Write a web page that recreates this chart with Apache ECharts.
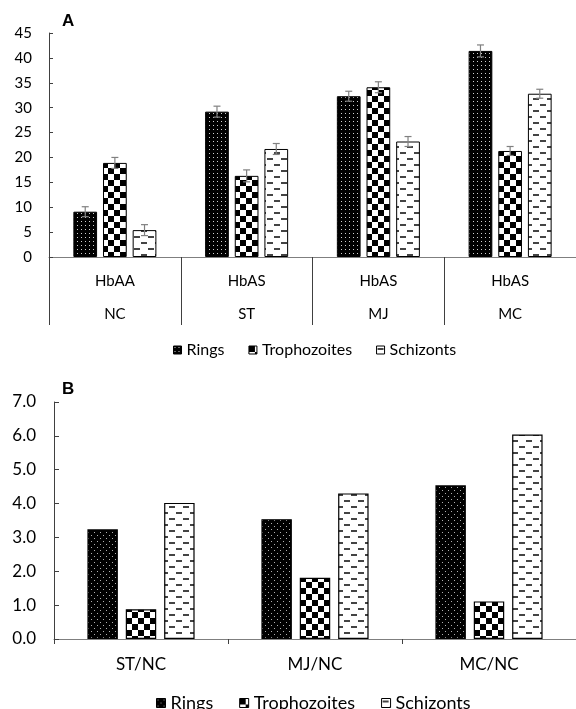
<!DOCTYPE html>
<html>
<head>
<meta charset="utf-8">
<script src="https://cdn.jsdelivr.net/npm/echarts@6/dist/echarts.min.js"></script>
<style>
  html, body { margin: 0; padding: 0; background: #fff; }
  #chart { width: 576px; height: 709px; }
</style>
</head>
<body>
<div id="chart"></div>
<script>
// panel A: % of infected cells per stage
const groupsA = ['HbAA\nNC', 'HbAS\nST', 'HbAS\nMJ', 'HbAS\nMC'];
const ringsA = [9.1, 29.2, 32.3, 41.4];
const trophA = [18.9, 16.3, 34.1, 21.3];
const schizA = [5.4, 21.7, 23.2, 32.8];
const ringsErr = [1.0, 1.1, 1.0, 1.2];
const trophErr = [1.1, 1.2, 1.1, 0.9];
const schizErr = [1.1, 1.1, 1.0, 0.9];
const ticksA = [0, 45, 5];

// panel B: ratios against NC
const groupsB = ['ST/NC', 'MJ/NC', 'MC/NC'];
const ringsB = [3.24, 3.54, 4.54];
const trophB = [0.88, 1.81, 1.11];
const schizB = [4.02, 4.30, 6.04];
const ticksB = [0, 7, 1];

const stages = ['Rings', 'Trophozoites', 'Schizonts'];

function tile(w, h, draw) {
    const c = document.createElement('canvas');
    c.width = w; c.height = h;
    draw(c.getContext('2d'));
    return { image: c, repeat: 'repeat' };
}

const dotsA = tile(4, 4, g => {
    g.fillStyle = '#000'; g.fillRect(0, 0, 4, 4);
    g.fillStyle = '#d0d0d0'; g.fillRect(1, 1, 1, 1);
});
const dotsB = tile(6, 6, g => {
    g.fillStyle = '#000'; g.fillRect(0, 0, 6, 6);
    g.fillStyle = '#b0b0b0'; g.fillRect(1, 1, 1, 1); g.fillRect(4, 4, 1, 1);
});
const checker = tile(12, 12, g => {
    g.fillStyle = '#fff'; g.fillRect(0, 0, 12, 12);
    g.fillStyle = '#000'; g.fillRect(0, 0, 6, 6); g.fillRect(6, 6, 6, 6);
});
const dashes = tile(14, 12, g => {
    g.fillStyle = '#fff'; g.fillRect(0, 0, 14, 12);
    g.fillStyle = '#444'; g.fillRect(1, 2, 6, 2); g.fillRect(8, 8, 6, 2);
});

const patA = [dotsA, checker, dashes];
const patB = [dotsB, checker, dashes];
const valsA = [ringsA, trophA, schizA];
const errsA = [ringsErr, trophErr, schizErr];
const valsB = [ringsB, trophB, schizB];

const axisGray = '#7f7f7f';
const textCol = '#000';
const font = 'Lato';

const chart = echarts.init(document.getElementById('chart'), null, { renderer: 'canvas' });

const series = [];
stages.forEach((name, i) => {
    series.push({
        name, type: 'bar', xAxisIndex: 0, yAxisIndex: 0,
        barWidth: '18%', barGap: '25%',
        itemStyle: { color: patA[i], borderColor: '#000', borderWidth: 1 },
        data: valsA[i], z: 2
    });
});
stages.forEach((name, i) => {
    series.push({
        name, type: 'bar', xAxisIndex: 1, yAxisIndex: 1,
        barWidth: '17.5%', barGap: '26%',
        itemStyle: { color: patB[i], borderColor: '#000', borderWidth: 1.2 },
        data: valsB[i], z: 2
    });
});
// error bars for panel A
stages.forEach((name, i) => {
    series.push({
        type: 'custom', xAxisIndex: 0, yAxisIndex: 0, z: 5, silent: true,
        data: valsA[i].map((v, k) => [k, v, errsA[i][k]]),
        renderItem: (params, api) => {
            const k = api.value(0), v = api.value(1), e = api.value(2);
            const band = api.size([1, 0])[0];
            const x = api.coord([k, v])[0] + (i - 1) * band * 0.225;
            const y1 = api.coord([k, v + e])[1];
            const y2 = api.coord([k, v - e])[1];
            const st = { stroke: '#808080', lineWidth: 1.2 };
            return {
                type: 'group', children: [
                    { type: 'line', shape: { x1: x, y1, x2: x, y2 }, style: st },
                    { type: 'line', shape: { x1: x - 3.5, y1, x2: x + 3.5, y2: y1 }, style: st },
                    { type: 'line', shape: { x1: x - 3.5, y1: y2, x2: x + 3.5, y2 }, style: st }
                ]
            };
        }
    });
});

chart.setOption({
    animation: false,
    textStyle: { fontFamily: font, color: textCol },
    grid: [
        { left: 49, top: 33, width: 537, height: 224 },
        { left: 54, top: 402, width: 530, height: 237 }
    ],
    xAxis: [
        {
            type: 'category', gridIndex: 0, data: groupsA,
            axisLine: { lineStyle: { color: axisGray, width: 1 } },
            axisTick: { show: true, interval: 0, length: 68, lineStyle: { color: '#404040' } },
            axisLabel: { interval: 0, margin: 8, fontSize: 15, lineHeight: 33, color: textCol, fontFamily: font }
        },
        {
            type: 'category', gridIndex: 1, data: groupsB,
            axisLine: { lineStyle: { color: axisGray, width: 1 } },
            axisTick: { show: true, interval: 0, length: 5, lineStyle: { color: '#404040' } },
            axisLabel: { interval: 0, margin: 17, fontSize: 17, color: textCol, fontFamily: font }
        }
    ],
    yAxis: [
        {
            type: 'value', gridIndex: 0, min: ticksA[0], max: ticksA[1], interval: ticksA[2],
            splitLine: { show: false },
            axisLine: { show: true, lineStyle: { color: '#404040' } },
            axisTick: { show: true, inside: true, length: 4, lineStyle: { color: '#404040' } },
            axisLabel: { margin: 17, fontSize: 15, color: textCol, fontFamily: font }
        },
        {
            type: 'value', gridIndex: 1, min: ticksB[0], max: ticksB[1], interval: ticksB[2],
            splitLine: { show: false },
            axisLine: { show: true, lineStyle: { color: '#404040' } },
            axisTick: { show: true, inside: true, length: 5, lineStyle: { color: '#404040' } },
            axisLabel: { margin: 18, fontSize: 17, color: textCol, fontFamily: font, formatter: v => v.toFixed(1) }
        }
    ],
    legend: [
        {
            left: 168, top: 337, itemWidth: 8, itemHeight: 8, itemGap: 24,
            textStyle: { fontSize: 16, color: textCol, fontFamily: font },
            data: stages.map((n, i) => ({ name: n, icon: 'rect', itemStyle: { color: patA[i], borderColor: '#000', borderWidth: 1 } }))
        },
        {
            left: 151, top: 689, itemWidth: 9, itemHeight: 9, itemGap: 26,
            textStyle: { fontSize: 18, color: textCol, fontFamily: font },
            data: stages.map((n, i) => ({ name: n, icon: 'rect', itemStyle: { color: patB[i], borderColor: '#000', borderWidth: 1 } }))
        }
    ],
    graphic: [
        { type: 'text', left: 62, top: 13, style: { text: 'A', font: 'bold 17px "Liberation Sans"', fill: '#000' } },
        { type: 'text', left: 62, top: 381, style: { text: 'B', font: 'bold 17px "Liberation Sans"', fill: '#000' } }
    ],
    series
});
</script>
</body>
</html>
